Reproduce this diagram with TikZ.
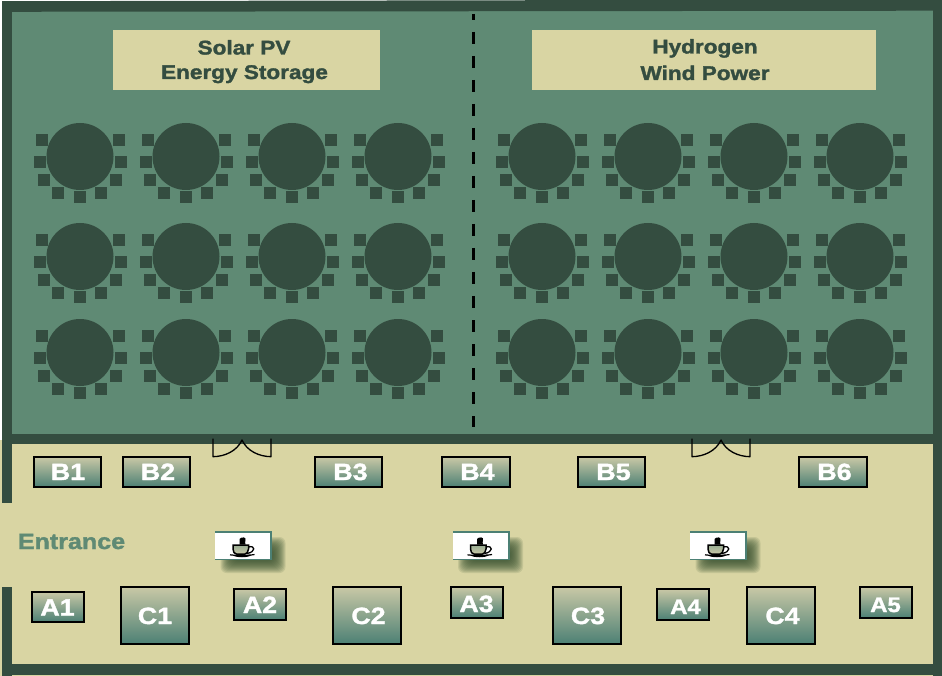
\documentclass[tikz,border=0pt]{standalone}
\usepackage{fontspec}
\newfontfamily\wf{Liberation Sans}[FakeStretch=1.14,BoldFeatures={FakeBold=1.6}]
\definecolor{wallc}{HTML}{344D40}
\definecolor{roomc}{HTML}{5F8A74}
\definecolor{floorc}{HTML}{D9D5A3}
\definecolor{tealc}{HTML}{4C8074}
\definecolor{gradtop}{HTML}{C9C8A6}
\definecolor{shadc}{HTML}{34502F}
\tikzset{
  x=1pt,y=-1pt,
  wall/.style={fill=wallc,draw=none},
  chair/.style={fill=wallc,draw=none,minimum size=11.7pt,inner sep=0pt,rectangle},
  tabletop/.style={fill=wallc,draw=none,circle,minimum size=67pt,inner sep=0pt},
  booth/.style={rectangle,draw=black,line width=1.8pt,top color=gradtop,bottom color=tealc,inner sep=0pt,outer sep=0pt},
  boothtext/.style={anchor=base,text=white,inner sep=0pt,font=\wf\bfseries\fontsize{23.5}{24}\selectfont},
  smalltext/.style={anchor=base,text=white,inner sep=0pt,font=\wf\bfseries\fontsize{21}{24}\selectfont},
  titlebox/.style={fill=floorc,draw=none,rectangle,inner sep=0pt},
  titletext/.style={anchor=base,text=wallc,inner sep=0pt,font=\wf\bfseries\fontsize{19.8}{22}\selectfont},
  door/.style={draw=black,line width=1.3pt,line cap=round,line join=round},
  divider/.style={draw=black,line width=3pt,dash pattern=on 12pt off 12pt,dash phase=6pt},
}
\newcommand{\roundtable}[3]{%
  \node[tabletop] (t#3) at (#1,#2) {};
  \foreach \dx/\dy in {-38/-16.7,38.7/-16.7,-40/5.3,40.7/5.3,-36/23.3,35.7/23.3,-22.3/36.6,20.7/36.6,0/40.6}
    \node[chair] at ({#1+\dx},{#2+\dy}) {};
}
\newcommand{\boothbox}[5]{%
  \node[booth,minimum width={#4-#2-1.8},minimum height={#5-#3-1.8}] (#1) at ({(#2+#4)/2},{(#3+#5)/2}) {};
}
\newcommand{\cafedesk}[2]{%
  \begin{scope}[shift={(#1,546)}]
    \foreach \g in {6,5,4,3,2,1,0,-1,-2,-3,-4,-5,-6}
      \fill[shadc,opacity=.12,rounded corners=6pt] ({-16-\g},{-3-\g}) rectangle ({37+\g},{21+\g});
    \fill[tealc] (-27.5,-15) rectangle (29.8,13.5);
    \node[fill=white,draw=none,minimum width=55pt,minimum height=26pt,inner sep=0pt] (#2) at (0,0) {};
    \fill[black] (-3,-1.5) .. controls (-4.5,-4) and (-1,-4.5) .. (-3,-7) .. controls (-1,-9.5) and (4,-9) .. (3,-6) .. controls (2,-4.5) and (3,-3) .. (3,-1.5) -- cycle;
    \draw[black,line width=1.3pt] (6,1) .. controls (13,-1) and (13.5,6) .. (4.5,7.5);
    \path[top color=gradtop!60!tealc,bottom color=gradtop,draw=black,line width=1.5pt]
      (-9.5,-1) -- (6,-1) -- (6,3) .. controls (6,6) and (4,8) .. (2.5,8) -- (-6,8) .. controls (-8,8) and (-9.5,6) .. (-9.5,3) -- cycle;
    \draw[black,line width=1.2pt] (-12.5,8.8) .. controls (-10,9.5) and (8,9.5) .. (12,8.5);
    \fill[black] (-10,9) .. controls (-7,12) and (6,12) .. (9,9) -- cycle;
  \end{scope}
}
\begin{document}
\begin{tikzpicture}
\useasboundingbox (0,0) rectangle (942,676);
\fill[white] (0,0) rectangle (942,676);
% floors
\fill[roomc] (8,6) rectangle (936,440);
\fill[floorc] (0,440) rectangle (942,676);
% walls
\fill[wall] (2,1.2) -- (942,-0.5) -- (942,10.7) -- (2,11.8) -- cycle;
\fill[wall] (2,1.2) rectangle (12,503);
\fill[wall] (2,587) rectangle (12,675.5);
\fill[wall] (932.5,0) rectangle (942,676);
\fill[wall] (2,434) rectangle (942,444);
\fill[wall] (2,664) rectangle (942,675.3);
% divider
\draw[divider] (473,14) -- (473,427);
% titles
\node[titlebox,minimum width=267pt,minimum height=60pt] (ttlA) at (246.5,60) {};
\node[titlebox,minimum width=344pt,minimum height=60pt] (ttlB) at (704,60) {};
\node[titletext] (ttlA1) at (244,54.5) {Solar PV};
\node[titletext] (ttlA2) at (244.5,79) {Energy Storage};
\node[titletext] (ttlB1) at (705,53.5) {Hydrogen};
\node[titletext] (ttlB2) at (705,80) {Wind Power};
% tables
\foreach \cy/\r in {156.5/a,256.5/b,352.5/c}
  \foreach \cx/\n in {80/1,186/2,292/3,398/4,542/5,648/6,754/7,860/8}
    {\roundtable{\cx}{\cy}{\r\n}}
% doors
\draw[door] (213,439) -- (213,456.7) .. controls (225,456.5) and (237,451) .. (242,440) .. controls (247,451) and (259,456.5) .. (271,456.7) -- (271,439);
\draw[door] (692,439) -- (692,456.7) .. controls (704,456.5) and (716,451) .. (721,440) .. controls (726,451) and (738,456.5) .. (750,456.7) -- (750,439);
% booths
\boothbox{B1}{33}{456}{102}{488}
\boothbox{B2}{122}{456}{191}{488}
\boothbox{B3}{314}{456}{383}{488}
\boothbox{B4}{441}{456}{511}{488}
\boothbox{B5}{577}{456}{646}{488}
\boothbox{B6}{798}{456}{868}{488}
\boothbox{A1}{31}{591}{85}{623}
\boothbox{A2}{233}{588}{287}{621}
\boothbox{A3}{450}{586}{504}{619}
\boothbox{A4}{656}{588}{710}{621}
\boothbox{A5}{859}{586}{913}{619}
\boothbox{C1}{120}{586}{190}{645}
\boothbox{C2}{332}{586}{402}{645}
\boothbox{C3}{552}{586}{622}{645}
\boothbox{C4}{746}{586}{816}{645}
\node[boothtext] at (68,480) {B1};
\node[boothtext] at (158,480) {B2};
\node[boothtext] at (350.5,480) {B3};
\node[boothtext] at (477.5,480) {B4};
\node[boothtext] at (613.5,480) {B5};
\node[boothtext] at (834.5,480) {B6};
\node[boothtext] at (57.5,615.5) {A1};
\node[boothtext] at (260,613) {A2};
\node[boothtext] at (476.5,612) {A3};
\node[smalltext] at (685.5,614) {A4};
\node[smalltext] at (885.5,612) {A5};
\node[boothtext] at (155,624) {C1};
\node[boothtext] at (368.5,624) {C2};
\node[boothtext] at (588,624) {C3};
\node[boothtext] at (782.5,624) {C4};
% entrance
\node[anchor=base,text=roomc,inner sep=0pt,font=\wf\bfseries\fontsize{22}{24}\selectfont] (ent) at (71.5,549) {Entrance};
% cafes
\cafedesk{242.5}{cafeA}
\cafedesk{480}{cafeB}
\cafedesk{717.5}{cafeC}
\end{tikzpicture}
\end{document}
